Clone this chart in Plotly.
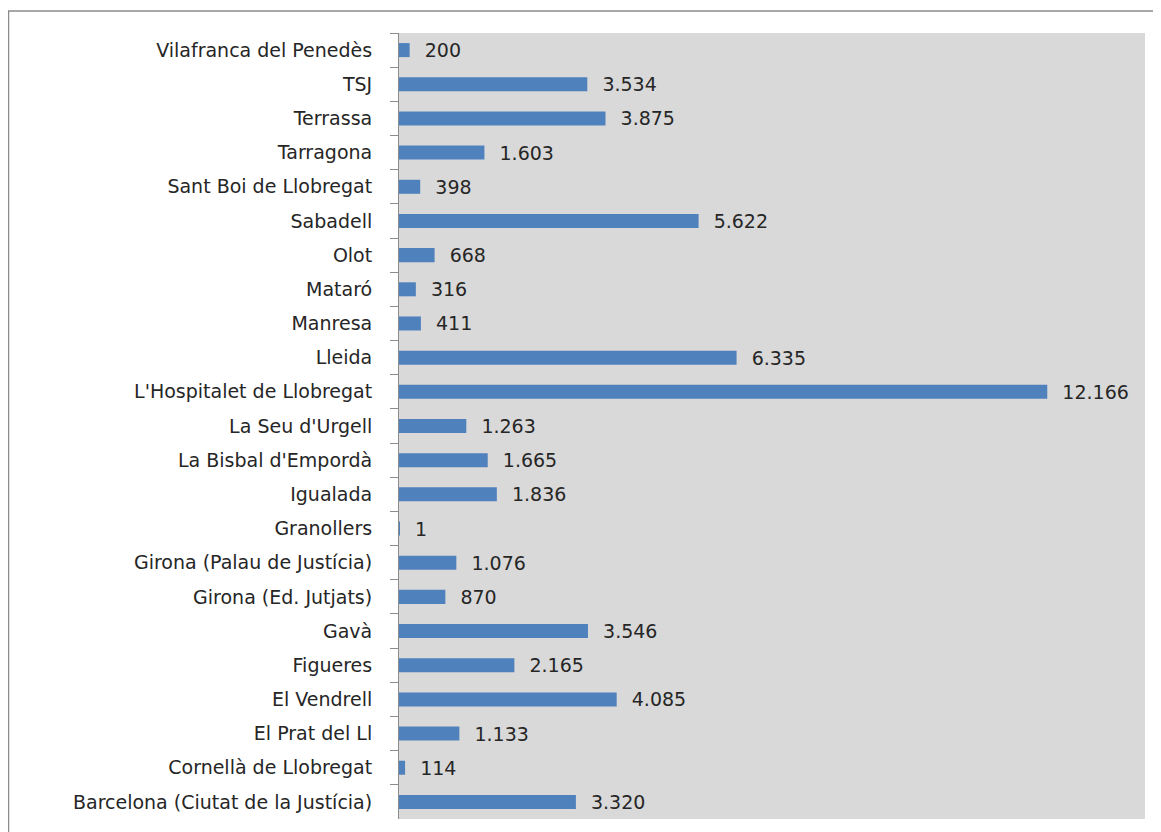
import plotly.graph_objects as go

categories = [
    "Vilafranca del Penedès", "TSJ", "Terrassa", "Tarragona", "Sant Boi de Llobregat",
    "Sabadell", "Olot", "Mataró", "Manresa", "Lleida", "L'Hospitalet de Llobregat",
    "La Seu d'Urgell", "La Bisbal d'Empordà", "Igualada", "Granollers",
    "Girona (Palau de Justícia)", "Girona (Ed. Jutjats)", "Gavà", "Figueres",
    "El Vendrell", "El Prat del Ll", "Cornellà de Llobregat",
    "Barcelona (Ciutat de la Justícia)",
]
values = [200, 3534, 3875, 1603, 398, 5622, 668, 316, 411, 6335, 12166,
          1263, 1665, 1836, 1, 1076, 870, 3546, 2165, 4085, 1133, 114, 3320]

labels = ["  " + f"{v:,}".replace(",", ".") for v in values]

FONT = "DejaVu Sans"
FS = 19

fig = go.Figure(go.Bar(
    x=values, y=categories, orientation="h",
    marker=dict(color="#4f81bd", line=dict(width=0)),
    text=labels, textposition="outside", constraintext="none",
    textfont=dict(family=FONT, size=FS, color="#262626"),
    cliponaxis=True,
))

# page has an 8px body margin, so figure coordinates are page - 8
W, H = 1153, 824
L, R, T, B = 391, 1137, 25, 811
fig.update_layout(
    width=W, height=H,
    margin=dict(l=L, r=W - R, t=T, b=H - B, pad=0),
    paper_bgcolor="white", plot_bgcolor="#d9d9d9",
    bargap=0.59, showlegend=False,
    font=dict(family=FONT, size=FS, color="#262626"),
    xaxis=dict(range=[0, 14000], visible=False, showgrid=False, zeroline=False),
    yaxis=dict(autorange="reversed", showgrid=False, zeroline=False,
               showline=True, linecolor="#8c8c8c", linewidth=1,
               ticks="outside", ticklen=8, tickcolor="#8c8c8c", tickson="boundaries",
               ticklabelstandoff=22,
               tickfont=dict(family=FONT, size=FS, color="#262626")),
)

pw, ph = R - L, B - T
fig.add_shape(type="rect", xref="paper", yref="paper",
              x0=(0.5 - L) / pw, x1=(W + 20 - L) / pw,
              y0=(B - (H + 20)) / ph, y1=(B - 3) / ph,
              line=dict(color="#8c8c8c", width=1.5), fillcolor="rgba(0,0,0,0)", layer="below")

fig.write_html("out.html")
